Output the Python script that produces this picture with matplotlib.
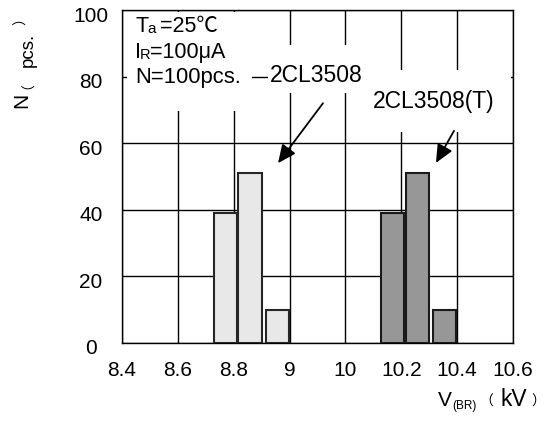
import numpy as np
import matplotlib
matplotlib.use('Agg')
import matplotlib.pyplot as plt
from matplotlib.patches import Rectangle
from matplotlib.transforms import ScaledTranslation

# ---------------- data ----------------
tick_values = [8.4, 8.6, 8.8, 9.0, 10.0, 10.2, 10.4, 10.6]
tick_labels = ['8.4', '8.6', '8.8', '9', '10', '10.2', '10.4', '10.6']
y_ticks = [0, 20, 40, 60, 80, 100]

bins_2cl3508 = [8.77, 8.858, 8.957]      # kV (bin centres)
counts_2cl3508 = [39, 51, 10]
bins_2cl3508t = [10.17, 10.258, 10.355]  # kV (bin centres)
counts_2cl3508t = [39, 51, 10]
bar_width_kv = 0.083

FONT = ['Liberation Sans', 'Noto Sans CJK SC', 'DejaVu Sans']
CJK = ['Noto Sans CJK SC', 'DejaVu Sans']
plt.rcParams['font.family'] = FONT

# broken (piecewise-linear) voltage axis
_tv = np.array(tick_values, dtype=float)
_idx = np.arange(len(tick_values), dtype=float)


def fwd(v):
    return np.interp(v, _tv, _idx)


def inv(p):
    return np.interp(p, _idx, _tv)


W, H = 545, 428
fig = plt.figure(figsize=(W / 100, H / 100), dpi=100)


def px(x, y):
    return x / W, 1 - y / H


ax = fig.add_axes([122 / W, (H - 343) / H, 391 / W, 333 / H])
ax.set_xscale('function', functions=(fwd, inv))
ax.set_xlim(tick_values[0], tick_values[-1])
ax.set_ylim(0, 100)
ax.set_xticks(tick_values)
ax.set_xticklabels(tick_labels)
ax.set_yticks(y_ticks)
ax.minorticks_off()
ax.set_axisbelow(True)
ax.grid(True, color='black', lw=1.0)
ax.tick_params(length=0, labelsize=15, colors='black')
ax.tick_params(axis='x', pad=13)
ax.tick_params(axis='y', pad=22.3)
for sp in ax.spines.values():
    sp.set_linewidth(1.0)
    sp.set_color('black')
for lab in ax.get_yticklabels():
    lab.set_horizontalalignment('center')
    lab.set_transform(lab.get_transform() + ScaledTranslation(0, -4 / 100, fig.dpi_scale_trans))

# bars
ax.bar(bins_2cl3508, counts_2cl3508, width=bar_width_kv, color='#e8e8e8',
       edgecolor='#262626', linewidth=1.5, zorder=3)
ax.bar(bins_2cl3508t, counts_2cl3508t, width=bar_width_kv, color='#979797',
       edgecolor='#1a1a1a', linewidth=1.5, zorder=3)

# white label backgrounds hiding the grid
for (x0, y0, x1, y1) in [(127, 12, 252, 111), (268, 45, 368, 93), (368, 70, 511, 132)]:
    ax.add_patch(Rectangle(((x0 - 122) / 391, (343 - y1) / 333), (x1 - x0) / 391, (y1 - y0) / 333,
                           transform=ax.transAxes, facecolor='white', edgecolor='none', zorder=1))

# arrows
arrow_kw = dict(arrowstyle='-|>,head_length=0.55,head_width=0.25', color='black', lw=1.3,
                mutation_scale=20, shrinkA=0, shrinkB=0)
ax.annotate('', xy=(0.399, 0.540), xytext=(0.514, 0.720), xycoords='axes fraction',
            arrowprops=arrow_kw, zorder=4)
ax.annotate('', xy=(0.803, 0.541), xytext=(0.849, 0.637), xycoords='axes fraction',
            arrowprops=arrow_kw, zorder=4)


def t(x, y, s, size=15, **kw):
    fig.text(*px(x, y), s, fontsize=size, va='baseline', ha='left', **kw)


# condition texts
t(135, 32, 'T', size=15.5)
t(147, 33, 'a', size=11)
t(160, 32, '=25℃', size=15.5)
t(135, 58, 'I', size=15.5)
t(140, 59, 'R', size=10.5)
t(150, 58, '=100μA', size=15.5)
t(135, 83, 'N=100pcs.', size=15.8)

t(270, 82, '2CL3508', size=16.5)
t(373, 108, '2CL3508(T)', size=16.5)


def vt(y, s, size, x=33, **kw):
    fig.text(*px(x, y), s, fontsize=size, rotation=90, rotation_mode='anchor',
             ha='center', va='baseline', **kw)


# y axis title
vt(100, 'N', 15, x=27)
vt(82, '（', 10, x=25, family=CJK)
vt(49.5, 'pcs.', 13.5)
vt(18, '）', 10, x=25, family=CJK)

# x axis title
t(438, 406, 'V')
t(452, 409, '(BR)', size=8.5)
t(479, 406, '（', size=10, family=CJK)
t(501, 406, 'kV', size=16.5)
t(531, 406, '）', size=10, family=CJK)

fig.savefig('out.png', dpi=100)
